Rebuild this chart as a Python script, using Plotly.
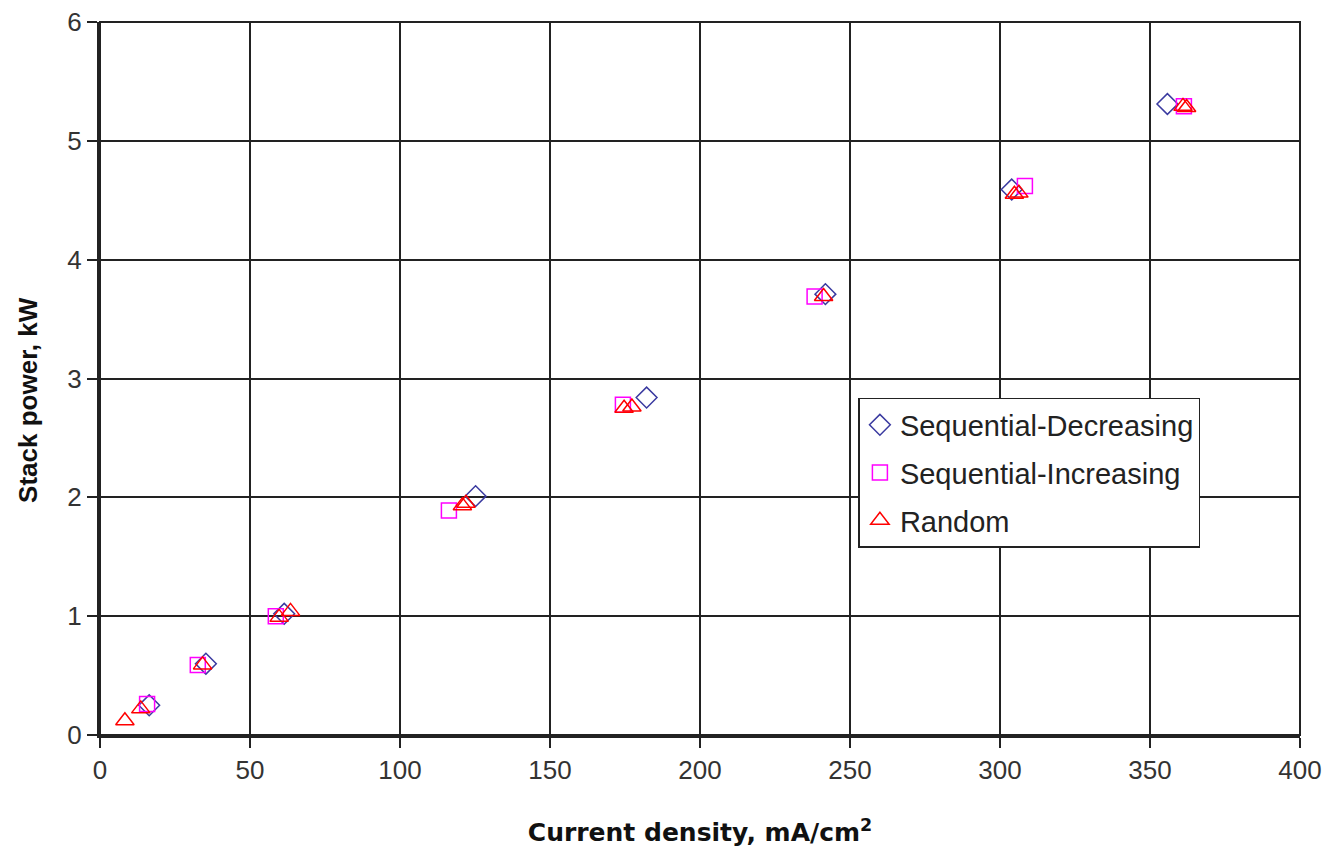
import plotly.graph_objects as go

# Sequential-Decreasing
dec_x = [16.4, 35.3, 61.4, 125.2, 182.2, 241.8, 303.9, 355.8]
dec_y = [0.25, 0.60, 1.02, 2.01, 2.84, 3.71, 4.59, 5.31]
# Sequential-Increasing
inc_x = [15.7, 32.6, 58.6, 116.3, 174.3, 238.2, 308.3, 361.3]
inc_y = [0.26, 0.59, 1.00, 1.89, 2.78, 3.69, 4.62, 5.29]
# Random
rnd_x = [8.3, 13.6, 34.2, 59.7, 63.5, 120.8, 122.0, 174.7, 177.3, 241.2, 304.8, 306.3, 361.0, 362.2]
rnd_y = [0.12, 0.22, 0.59, 0.99, 1.04, 1.93, 1.95, 2.75, 2.76, 3.69, 4.55, 4.56, 5.29, 5.28]

fig = go.Figure()
fig.add_trace(go.Scatter(x=dec_x, y=dec_y, mode="markers", name="Sequential-Decreasing", legendgroup="a",
                         marker=dict(symbol="diamond-open", size=16, color="#3a3aa0", line=dict(width=1.5))))
fig.add_trace(go.Scatter(x=inc_x, y=inc_y, mode="markers", name="Sequential-Increasing", legendgroup="b",
                         marker=dict(symbol="square-open", size=15, color="#ff00ff", line=dict(width=1.5))))
fig.add_trace(go.Scatter(x=rnd_x, y=rnd_y, mode="markers", name="Random", legendgroup="c",
                         marker=dict(symbol="triangle-up-open", size=16, color="#ff0000", line=dict(width=1.5))))

fig.update_layout(
    width=1323, height=843,
    margin=dict(l=92, r=31, t=14, b=116),
    paper_bgcolor="white", plot_bgcolor="white",
    font=dict(family="Liberation Sans, Arial, sans-serif", color="#222222"),
    legend=dict(x=0.632, y=0.4727, xanchor="left", yanchor="top",
                bgcolor="white", bordercolor="#222222", borderwidth=1.5,
                font=dict(size=29, color="#222222"), itemwidth=30, tracegroupgap=7),
    showlegend=True,
)
fig.update_xaxes(range=[0, 400], dtick=50, showgrid=True, gridcolor="#222222", gridwidth=2,
                 showline=True, linecolor="#222222", linewidth=3, mirror=False, automargin=False,
                 ticks="outside", ticklen=10, tickcolor="#222222", tickwidth=1.5,
                 tickfont=dict(size=26, color="#333333"), zeroline=False, ticklabeloverflow="allow",
                 title=dict(text="<b>Current density, mA/cm<sup>2</sup></b>",
                            font=dict(size=25, family="DejaVu Sans, sans-serif", color="#111111"), standoff=40))
fig.update_yaxes(range=[0, 6], dtick=1, showgrid=True, gridcolor="#222222", gridwidth=2,
                 showline=True, linecolor="#222222", linewidth=3, automargin=False,
                 ticks="outside", ticklen=10, tickcolor="#222222", tickwidth=1.5,
                 tickfont=dict(size=26, color="#333333"), zeroline=False, ticklabeloverflow="allow")
fig.add_annotation(text="<b>Stack power, kW</b>", xref="paper", yref="paper", x=-0.06, y=0.47,
                   xanchor="center", yanchor="middle", textangle=-90, showarrow=False,
                   font=dict(size=26, color="#111111"))
# frame on right/top
fig.add_shape(type="rect", xref="paper", yref="paper", x0=0, y0=0, x1=1, y1=1,
              line=dict(color="#222222", width=2), layer="above")

fig.write_html("out.html")
